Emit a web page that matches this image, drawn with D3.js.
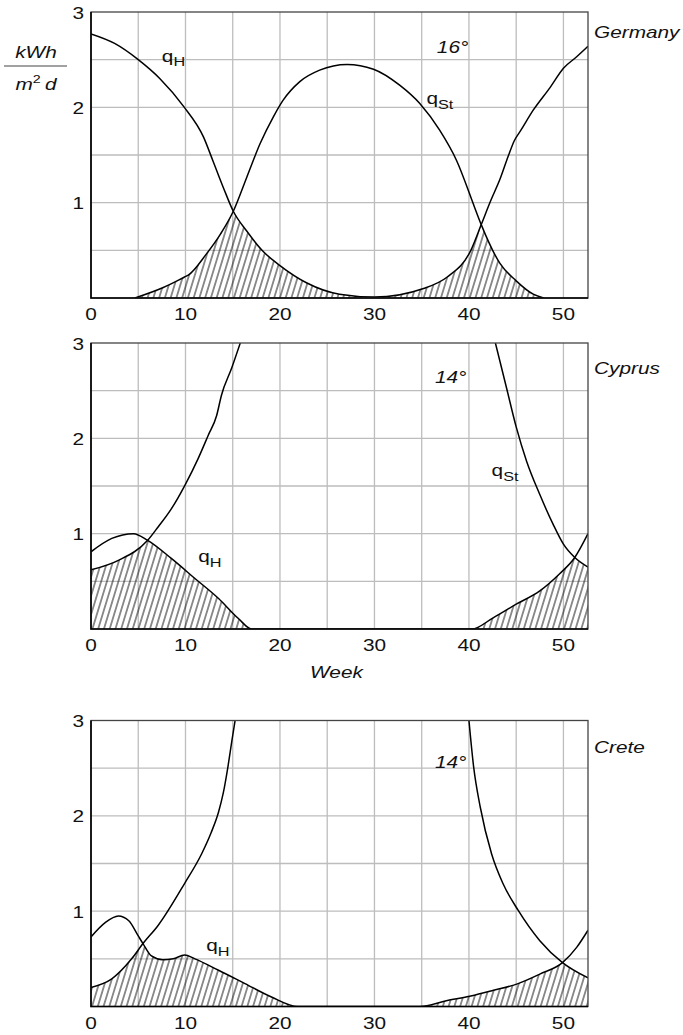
<!DOCTYPE html>
<html>
<head>
<meta charset="utf-8">
<script src="https://cdn.jsdelivr.net/npm/d3@7"></script>
<style>
  body { margin: 0; background: #fff; }
  svg text { font-family: "Liberation Sans", Arial, Helvetica, sans-serif; fill: #111; }
</style>
</head>
<body>
<svg id="chart" width="683" height="1035"></svg>
<script>
// axis ticks and grid
const weekTicks = [0, 10, 20, 30, 40, 50];
const valueTicks = [1, 2, 3];
const gridWeeks = [5, 10, 15, 20, 25, 30, 35, 40, 45, 50];
const gridValues = [0.5, 1, 1.5, 2, 2.5];
const countries = ["Germany", "Cyprus", "Crete"];
const tiltLabels = ["16°", "14°", "14°"];

// [week, kWh/(m2 d)] ; heat demand q_H
const germanyHeat = [[0, 2.77], [2.5, 2.67], [5, 2.5], [7.3, 2.3], [9.8, 2.01], [11.9, 1.69], [12.9, 1.44],
  [14, 1.16], [15.06, 0.91], [16.5, 0.7], [18.1, 0.5], [20, 0.34], [22.8, 0.16], [26.3, 0.04], [30, 0.01],
  [35.2, 0.1], [37.7, 0.22], [40.2, 0.5], [41.3, 0.77], [42.3, 1.02], [43.3, 1.25], [44.2, 1.5], [44.8, 1.65],
  [45.5, 1.76], [46.8, 1.97], [48.6, 2.21], [50, 2.41], [51.4, 2.53], [52.6, 2.64]];
// solar gain q_St (null = off the top of the chart)
const germanySolar = [[4.65, 0], [7.65, 0.11], [9.9, 0.22], [10.3, 0.24], [12.2, 0.46], [13.7, 0.67], [15.06, 0.91],
  [16.5, 1.27], [17.9, 1.62], [19.3, 1.9], [20.3, 2.07], [22.1, 2.27], [24.2, 2.39], [27.1, 2.45], [29.9, 2.4],
  [32.7, 2.23], [34.8, 2.04], [36.9, 1.76], [38.7, 1.44], [40.6, 0.95], [41.3, 0.77], [43.3, 0.36], [45, 0.18],
  [46.8, 0.04], [47.9, 0]];

const cyprusHeat = [[0, 0.81], [2.2, 0.95], [4.5, 1.0], [6.0, 0.93], [8.5, 0.74], [11, 0.53], [13.5, 0.32],
  [15.6, 0.11], [17, 0], [40.3, 0], [42.6, 0.12], [45, 0.26], [47.5, 0.4], [49.6, 0.58], [51.2, 0.75], [52.6, 1.0]];
const cyprusSolar = [[0, 0.62], [2.9, 0.72], [6.0, 0.93], [7.1, 1.07], [8.5, 1.26], [9.95, 1.51], [11.35, 1.79],
  [12.4, 2.03], [13.3, 2.24], [13.8, 2.45], [14.9, 2.74], [15.8, 3.0], [28, null],
  [42.8, 3.0], [44, 2.52], [45, 2.12], [46.1, 1.76], [47.5, 1.41], [48.9, 1.1], [50, 0.89], [51.2, 0.75], [52.6, 0.65]];

const creteHeat = [[0, 0.73], [1.5, 0.88], [2.9, 0.95], [4.0, 0.9], [5.0, 0.74], [5.5, 0.66], [6.4, 0.53],
  [7.6, 0.49], [8.7, 0.5], [9.9, 0.54], [11, 0.5], [13.5, 0.38], [16.3, 0.24], [19.1, 0.1], [21.9, 0],
  [34.8, 0], [37.6, 0.06], [40.2, 0.11], [42.6, 0.17], [45.2, 0.24], [47.5, 0.34], [49.9, 0.46], [51.4, 0.62], [52.6, 0.8]];
const creteSolar = [[0, 0.2], [2.2, 0.29], [4.3, 0.5], [5.5, 0.66], [7.1, 0.85], [9.9, 1.29], [11.7, 1.6],
  [12.7, 1.82], [13.5, 2.04], [14.0, 2.24], [14.5, 2.52], [14.9, 2.78], [15.25, 3.0], [28, null],
  [40.0, 3.0], [40.5, 2.51], [41.2, 2.09], [42.4, 1.6], [43.6, 1.29], [45.2, 1.01], [47.5, 0.69], [49.9, 0.46], [52.6, 0.3]];

const panels = [
  { name: countries[0], tilt: tiltLabels[0], heat: germanyHeat, solar: germanySolar },
  { name: countries[1], tilt: tiltLabels[1], heat: cyprusHeat, solar: cyprusSolar },
  { name: countries[2], tilt: tiltLabels[2], heat: creteHeat, solar: creteSolar }
];

// layout
const left = 91, right = 588, plotH = 286;
const tops = [12, 343, 720.5];
const sx = 1.3; // the original lettering is set wide
// label anchors, in chart units (week, value)
const heatLabelAt = [[7.5, 2.48], [11.35, 0.7], [12.2, 0.58]];
const solarLabelAt = [[35.5, 2.03], [42.4, 1.6], null];
const tiltLabelAt = [[36.6, 2.57], [36.4, 2.58], [36.4, 2.5]];
const countryLabelAt = [2.73, 2.68, 2.66];

const svg = d3.select("#chart");
const x = d3.scaleLinear().domain([0, 52.6]).range([left, right]);

const defs = svg.append("defs");
const hatch = defs.append("pattern")
  .attr("id", "hatch")
  .attr("patternUnits", "userSpaceOnUse")
  .attr("width", 5.5).attr("height", 10)
  .attr("patternTransform", "rotate(17)");
hatch.append("line")
  .attr("x1", 2.75).attr("y1", -1).attr("x2", 2.75).attr("y2", 11)
  .attr("stroke", "#000").attr("stroke-width", 0.9);

function putText(g, px, py, str, anchor, size, italic) {
  return g.append("text")
    .attr("transform", `translate(${px},${py}) scale(${sx},1)`)
    .attr("text-anchor", anchor)
    .style("font-size", size + "px")
    .style("font-style", italic ? "italic" : "normal")
    .text(str);
}

function qLabel(g, px, py, sub) {
  const t = g.append("text")
    .attr("transform", `translate(${px},${py}) scale(${sx},1)`)
    .style("font-size", "16px");
  t.append("tspan").text("q");
  t.append("tspan").attr("dy", 4.5).style("font-size", "12.5px").text(sub);
}

panels.forEach((p, i) => {
  const top = tops[i];
  const bottom = top + plotH;
  const y = d3.scaleLinear().domain([0, 3]).range([bottom, top]);
  const g = svg.append("g");

  defs.append("clipPath").attr("id", "plot" + i)
    .append("rect").attr("x", left).attr("y", top).attr("width", right - left).attr("height", plotH);

  // area below q_St, used to cut the hatch down to min(q_H, q_St)
  const solarArea = d3.area()
    .x(d => x(d[0]))
    .y0(y(0))
    .y1(d => y(d[1] === null ? 3 : d[1]))
    .curve(d3.curveMonotoneX);
  defs.append("clipPath").attr("id", "solar" + i)
    .append("path").attr("d", solarArea(p.solar));

  // grid
  g.selectAll(".gx").data(gridWeeks).enter().append("line")
    .attr("x1", d => x(d)).attr("x2", d => x(d))
    .attr("y1", top).attr("y2", bottom)
    .attr("stroke", "#bdbdbd").attr("stroke-width", 1.3);
  g.selectAll(".gy").data(gridValues).enter().append("line")
    .attr("x1", left).attr("x2", right)
    .attr("y1", d => y(d)).attr("y2", d => y(d))
    .attr("stroke", "#bdbdbd").attr("stroke-width", 1.3);

  // hatched overlap
  const heatArea = d3.area()
    .x(d => x(d[0]))
    .y0(y(0))
    .y1(d => y(d[1]))
    .curve(d3.curveMonotoneX);
  g.append("g").attr("clip-path", `url(#solar${i})`)
    .append("path")
    .attr("d", heatArea(p.heat))
    .attr("fill", "url(#hatch)");

  // curves
  const line = d3.line()
    .defined(d => d[1] !== null)
    .x(d => x(d[0]))
    .y(d => y(d[1]))
    .curve(d3.curveMonotoneX);
  const curves = g.append("g").attr("clip-path", `url(#plot${i})`);
  [p.heat, p.solar].forEach(s => {
    curves.append("path")
      .attr("d", line(s))
      .attr("fill", "none")
      .attr("stroke", "#000")
      .attr("stroke-width", 1.5);
  });

  // frame
  g.append("rect")
    .attr("x", left).attr("y", top).attr("width", right - left).attr("height", plotH)
    .attr("fill", "none").attr("stroke", "#444").attr("stroke-width", 1.3);
  g.append("path")
    .attr("d", `M${left},${top}V${bottom}H${right}`)
    .attr("fill", "none").attr("stroke", "#000").attr("stroke-width", 1.6);

  // tick labels
  weekTicks.forEach(w => putText(g, x(w), bottom + 22, w, "middle", 16, false));
  valueTicks.forEach(v => putText(g, left - 7, y(v) + 6.5, v, "end", 16, false));

  // annotations
  putText(g, right + 6, y(countryLabelAt[i]), p.name, "start", 16, true);
  putText(g, x(tiltLabelAt[i][0]), y(tiltLabelAt[i][1]), p.tilt, "start", 16, true);
  qLabel(g, x(heatLabelAt[i][0]), y(heatLabelAt[i][1]), "H");
  if (solarLabelAt[i]) qLabel(g, x(solarLabelAt[i][0]), y(solarLabelAt[i][1]), "St");

  if (i === 1) putText(g, (left + right) / 2 - 3, bottom + 49, "Week", "middle", 16, true);
});

// unit label kWh / m2 d
const unit = svg.append("g");
putText(unit, 36, 58, "kWh", "middle", 16, true);
unit.append("line")
  .attr("x1", 4).attr("x2", 67).attr("y1", 66).attr("y2", 66)
  .attr("stroke", "#444").attr("stroke-width", 1.2);
const md = unit.append("text")
  .attr("transform", `translate(36,90) scale(${sx},1)`)
  .attr("text-anchor", "middle")
  .style("font-size", "16px").style("font-style", "italic");
md.append("tspan").text("m");
md.append("tspan").attr("dy", -7).style("font-size", "11px").style("font-style", "normal").text("2");
md.append("tspan").attr("dy", 7).text("\u2009d");
</script>
</body>
</html>
